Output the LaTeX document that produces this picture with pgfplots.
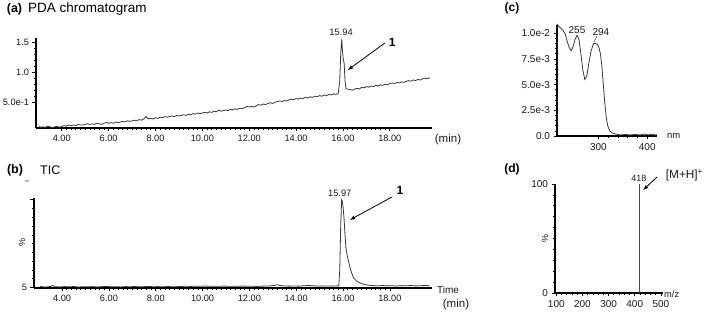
\documentclass[border=0pt]{standalone}
\usepackage{fontspec}
\setmainfont{Liberation Sans}
\usepackage{pgfplots}
\pgfplotsset{compat=1.18}
\begin{document}
\begin{tikzpicture}
\path[use as bounding box] (0pt,0pt) rectangle (707pt,313pt);
\pgfplotsset{chrom/.style={scale only axis, axis lines*=left, tick align=outside, clip=false,
  axis line style={line width=1.2pt, black},
  major tick length=3.5pt, minor tick length=2.2pt,
  tick style={black, line width=0.7pt},
  tick label style={font=\fontsize{9.2}{10}\selectfont, text=black!90},
  /pgf/number format/assume math mode=true},
  trace/.style={black!78, line width=0.8pt, mark=none}}
% ---------------- (a) PDA chromatogram ----------------
\begin{axis}[chrom, at={(36pt,185pt)}, anchor=south west, width=396pt, height=90pt,
  xmin=2.9, xmax=19.8, ymin=0.07, ymax=1.57,
  xtick={4,6,...,18}, xticklabels={4.00,6.00,8.00,10.00,12.00,14.00,16.00,18.00},
  minor x tick num=9,
  ytick={0.5,1.0,1.5}, yticklabels={5.0e-1,1.0,1.5}, minor y tick num=4]
\addplot[trace] coordinates {
(3.05,0.10)(3.1,0.08)(3.2,0.09)(3.3,0.08)(3.4,0.10)(3.5,0.09)(3.6,0.07)(3.7,0.09)(3.8,0.10)(3.9,0.08)
(4.0,0.10)(4.1,0.11)(4.2,0.10)(4.3,0.12)(4.4,0.11)(4.5,0.12)(4.6,0.11)(4.7,0.13)(4.8,0.12)(4.9,0.12)
(5.0,0.13)(5.1,0.14)(5.2,0.13)(5.3,0.14)(5.4,0.13)(5.5,0.15)(5.6,0.14)(5.7,0.13)(5.8,0.15)(5.9,0.16)
(6.0,0.15)(6.1,0.16)(6.2,0.15)(6.3,0.17)(6.4,0.16)(6.5,0.17)(6.6,0.18)(6.7,0.17)(6.8,0.19)(6.9,0.18)
(7.0,0.19)(7.1,0.20)(7.2,0.19)(7.3,0.21)(7.4,0.20)(7.5,0.22)(7.6,0.26)(7.7,0.22)(7.8,0.23)(7.9,0.22)
(8.0,0.24)(8.1,0.23)(8.2,0.25)(8.3,0.24)(8.4,0.26)(8.5,0.25)(8.6,0.26)(8.7,0.27)(8.8,0.26)(8.9,0.28)
(9.0,0.27)(9.1,0.28)(9.2,0.29)(9.3,0.28)(9.4,0.30)(9.5,0.29)(9.6,0.31)(9.7,0.30)(9.8,0.32)(9.9,0.31)
(10.0,0.32)(10.1,0.33)(10.2,0.32)(10.3,0.34)(10.4,0.33)(10.5,0.35)(10.6,0.34)(10.7,0.37)(10.8,0.35)(10.9,0.36)
(11.0,0.37)(11.1,0.36)(11.2,0.38)(11.3,0.37)(11.4,0.39)(11.5,0.38)(11.6,0.40)(11.7,0.39)(11.8,0.41)(11.9,0.43)
(12.0,0.42)(12.1,0.43)(12.2,0.42)(12.3,0.44)(12.4,0.46)(12.5,0.45)(12.6,0.47)(12.7,0.46)(12.8,0.48)(12.9,0.49)
(13.0,0.48)(13.1,0.50)(13.2,0.51)(13.3,0.52)(13.4,0.51)(13.5,0.53)(13.6,0.52)(13.7,0.54)(13.8,0.55)(13.9,0.54)
(14.0,0.56)(14.1,0.55)(14.2,0.57)(14.3,0.56)(14.4,0.58)(14.5,0.57)(14.6,0.59)(14.7,0.58)(14.8,0.60)(14.9,0.59)
(15.0,0.61)(15.1,0.60)(15.2,0.62)(15.3,0.61)(15.4,0.63)(15.5,0.62)(15.6,0.64)(15.7,0.63)(15.8,0.65)
(15.86,0.85)(15.91,1.35)(15.95,1.55)(15.98,1.35)(16.01,1.22)(16.05,1.15)(16.09,0.85)(16.13,0.72)
(16.2,0.72)(16.3,0.71)(16.4,0.70)(16.5,0.72)(16.6,0.73)(16.7,0.72)(16.8,0.75)(16.9,0.74)
(17.0,0.76)(17.1,0.75)(17.2,0.77)(17.3,0.76)(17.4,0.78)(17.5,0.77)(17.6,0.79)(17.7,0.78)(17.8,0.80)(17.9,0.79)
(18.0,0.81)(18.1,0.82)(18.2,0.81)(18.3,0.83)(18.4,0.82)(18.5,0.84)(18.6,0.83)(18.7,0.85)(18.8,0.86)(18.9,0.85)
(19.0,0.87)(19.1,0.86)(19.2,0.88)(19.3,0.87)(19.4,0.89)(19.5,0.90)(19.6,0.89)(19.7,0.91)};
\node[font=\fontsize{9.3}{10}\selectfont, text=black!90] at (axis cs:15.92,1.67) {15.94};
\node[font=\bfseries\fontsize{12}{12}\selectfont] at (axis cs:18.1,1.5) {1};
\draw[-latex, line width=0.8pt] (axis cs:17.79,1.487) -- (axis cs:16.21,1.037);
\end{axis}
% ---------------- (b) TIC ----------------
\begin{axis}[chrom, at={(34pt,25pt)}, anchor=south west, width=398pt, height=90pt,
  xmin=2.8, xmax=19.8, ymin=-0.5, ymax=102,
  xtick={4,6,...,18}, xticklabels={4.00,6.00,8.00,10.00,12.00,14.00,16.00,18.00},
  minor x tick num=9,
  ytick={0,100}, yticklabels={5,{}}, minor ytick={10,20,...,90}]
\addplot[trace] coordinates {
(3.05,1.5)(3.1,1.0)(3.3,0.6)(3.5,1.2)(3.6,2.5)(3.7,0.9)(3.9,0.7)(4.1,1.1)(4.3,0.8)(4.5,1.2)(4.7,0.6)(4.9,1.0)
(5.1,0.8)(5.3,1.1)(5.5,0.7)(5.7,1.0)(5.9,1.4)(6.1,0.8)(6.3,1.0)(6.5,0.7)(6.7,1.1)(6.9,0.9)
(7.1,1.2)(7.3,0.8)(7.5,1.0)(7.7,1.3)(7.9,0.9)(8.1,1.1)(8.3,0.8)(8.5,1.2)(8.7,0.9)(8.9,1.0)
(9.1,1.3)(9.3,1.5)(9.5,1.3)(9.7,1.6)(9.9,1.4)(10.1,1.7)(10.3,1.5)(10.5,1.6)(10.7,1.4)(10.9,1.7)
(11.1,1.5)(11.3,1.6)(11.5,1.4)(11.7,1.7)(11.9,1.5)(12.1,1.6)(12.3,1.3)(12.5,1.5)(12.7,1.8)(12.9,1.9)
(13.1,2.6)(13.2,3.2)(13.3,2.4)(13.5,1.8)(13.7,1.6)(13.9,1.8)(14.1,1.6)(14.3,2.0)(14.5,2.3)(14.7,2.1)
(14.9,1.7)(15.1,1.9)(15.3,1.7)(15.5,1.9)(15.7,1.8)(15.82,2.0)
(15.86,20)(15.9,70)(15.94,100)(15.97,98)(16.0,92)(16.04,80)(16.08,62)(16.12,46)(16.18,36)
(16.25,28)(16.35,18)(16.45,11)(16.6,7)(16.75,5)(16.9,3.5)(17.1,2.6)(17.3,2.2)(17.5,2.0)
(17.7,2.3)(17.9,1.9)(18.1,2.1)(18.3,1.8)(18.5,2.2)(18.7,2.0)(18.9,2.3)(19.1,1.9)(19.3,2.1)(19.5,2.3)(19.7,2.1)};
\node[font=\fontsize{9.3}{10}\selectfont, text=black!90] at (axis cs:15.86,107.7) {15.97};
\node[font=\bfseries\fontsize{12}{12}\selectfont] at (axis cs:18.43,111) {1};
\draw[-latex, line width=0.8pt] (axis cs:18.08,103) -- (axis cs:16.29,77);
\end{axis}
% ---------------- (c) UV spectrum ----------------
\begin{axis}[chrom, at={(557pt,177pt)}, anchor=south west, width=100pt, height=111pt,
  xmin=215, xmax=420, ymin=0, ymax=0.0108, scaled y ticks=false,
  tick label style={font=\fontsize{10}{11}\selectfont, text=black!90},
  xtick={300,400}, xticklabels={300,400}, minor x tick num=4,
  ytick={0,0.0025,0.005,0.0075,0.01}, yticklabels={0.0,2.5e-3,5.0e-3,7.5e-3,1.0e-2},
  minor y tick num=4]
\addplot[trace] coordinates {
(215,0.0109)(220,0.0106)(227,0.0103)(232,0.0099)(236,0.0092)(240,0.0086)(244,0.0083)(248,0.0087)
(252,0.0094)(256,0.0098)(260,0.0094)(264,0.0080)(268,0.0064)(272,0.0055)(276,0.0058)(280,0.0070)
(285,0.0083)(290,0.0090)(294,0.0090)(298,0.0089)(301,0.0086)(304,0.0080)(307,0.0068)(310,0.0050)
(313,0.0032)(316,0.0018)(319,0.0010)(323,0.0005)(328,0.0003)(335,0.0002)(345,0.0001)(355,0.00015)
(365,0.0001)(375,0.00015)(385,0.0001)(395,0.0002)(402,0.0001)(410,0.00018)(415,0.0001)(420,0.00012)};
\node[font=\fontsize{10}{11}\selectfont, text=black!90] at (axis cs:256,0.0103) {255};
\node[font=\fontsize{10}{11}\selectfont, text=black!90] at (axis cs:305,0.0101) {294};
\draw[black!70, line width=0.5pt] (axis cs:297,0.0097) -- (axis cs:290,0.0091);
\end{axis}
% ---------------- (d) MS spectrum ----------------
\begin{axis}[chrom, at={(555pt,20pt)}, anchor=south west, width=108pt, height=109pt,
  xmin=95, xmax=508, ymin=0, ymax=100,
  tick label style={font=\fontsize{10}{11}\selectfont, text=black!90},
  xtick={100,200,300,400,500}, xticklabels={100,200,300,400,500}, minor x tick num=4,
  ytick={0,100}, yticklabels={0,100}, minor y tick num=9]
\addplot[black!70, line width=0.7pt] coordinates {(418,0) (418,100)};
\node[font=\fontsize{9}{10}\selectfont, text=black!90] at (axis cs:416,105.5) {418};
\node[font=\fontsize{11.8}{12}\selectfont, text=black!90] at (axis cs:590,108) {[M+H]\textsuperscript{+}};
\draw[-latex, line width=0.8pt] (axis cs:485,106.4) -- (axis cs:432,94.5);
\end{axis}
% ---------------- panel texts ----------------
\node[font=\bfseries\fontsize{12.5}{13}\selectfont] at (14.5pt,304pt) {(a)};
\node[font=\fontsize{13.5}{14}\selectfont, anchor=west, inner sep=0pt] at (28pt,304pt) {PDA chromatogram};
\node[font=\fontsize{11.5}{12}\selectfont, text=black!90] at (448pt,173pt) {(min)};
\node[font=\bfseries\fontsize{12.5}{13}\selectfont] at (15pt,143pt) {(b)};
\node[font=\fontsize{12.5}{13}\selectfont, anchor=west, inner sep=0pt] at (40pt,143pt) {TIC};
\node[font=\fontsize{8}{9}\selectfont] at (27pt,131pt) {–};
\node[font=\fontsize{9}{10}\selectfont, rotate=90, text=black!90] at (22pt,70pt) {\%};
\node[font=\fontsize{10}{11}\selectfont, anchor=west, inner sep=0pt, text=black!90] at (437pt,23pt) {Time};
\node[font=\fontsize{11.5}{12}\selectfont, text=black!90] at (456pt,8pt) {(min)};
\node[font=\bfseries\fontsize{12}{13}\selectfont] at (512pt,305pt) {(c)};
\node[font=\fontsize{9.5}{10}\selectfont, anchor=west, inner sep=0pt, text=black!90] at (667pt,177pt) {nm};
\node[font=\bfseries\fontsize{12}{13}\selectfont] at (512pt,144pt) {(d)};
\node[font=\fontsize{9}{10}\selectfont, rotate=90, text=black!90] at (545pt,74pt) {\%};
\node[font=\fontsize{9.3}{10}\selectfont, anchor=west, inner sep=0pt, text=black!90] at (664pt,19pt) {m/z};
\end{tikzpicture}
\end{document}
